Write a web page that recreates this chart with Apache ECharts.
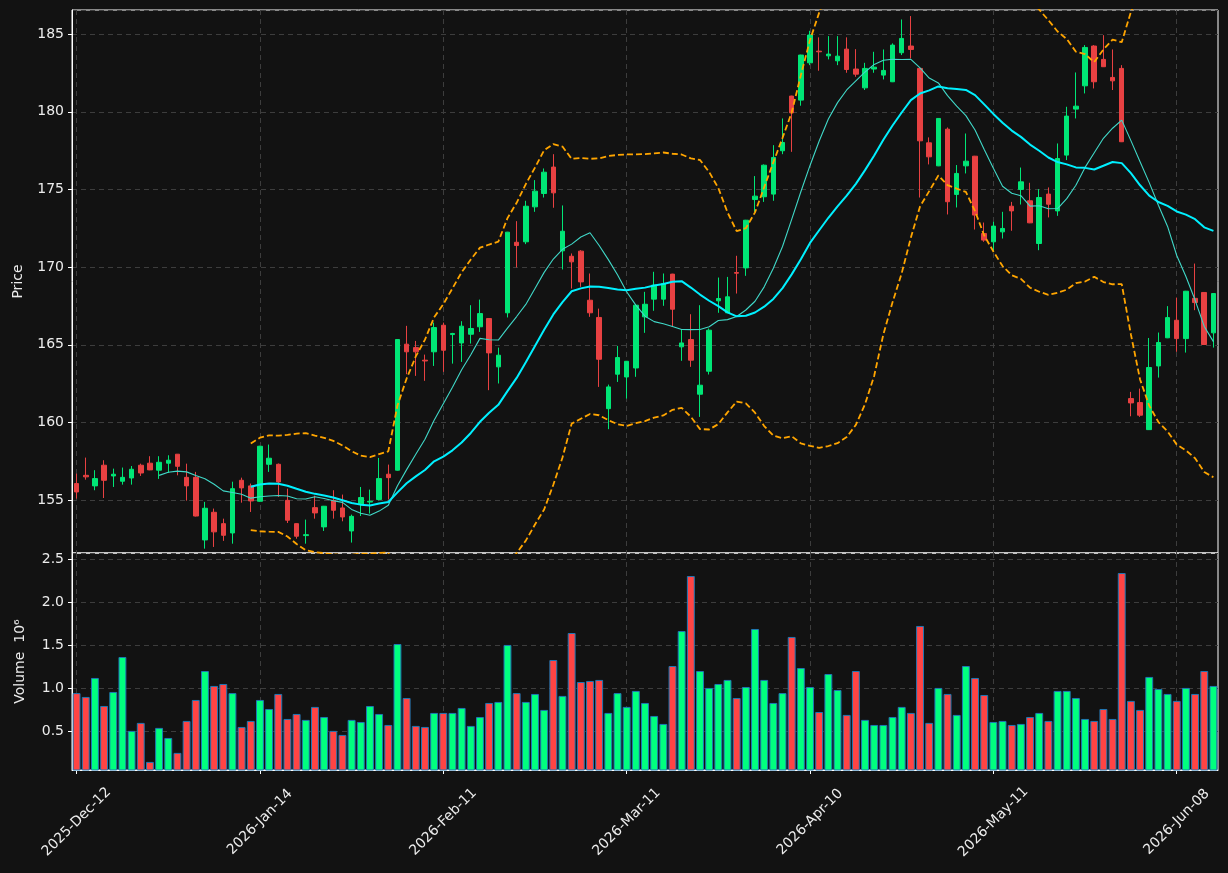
<!DOCTYPE html>
<html>
<head>
<meta charset="utf-8">
<title>Price and volume</title>
<script src="https://cdn.jsdelivr.net/npm/echarts@6.0.0/dist/echarts.min.js"></script>
<style>
    html, body { margin: 0; padding: 0; background: #121212; }
    #main { width: 1228px; height: 873px; }
</style>
</head>
<body>
<div id="main"></div>
<script>
// trading calendar
var startDay = '2025-12-12';
var dayCount = 125;
var holidays = ['2025-12-25', '2025-12-26', '2026-01-01', '2026-04-03', '2026-04-06', '2026-05-01'];
var monthNames = ['Jan', 'Feb', 'Mar', 'Apr', 'May', 'Jun', 'Jul', 'Aug', 'Sep', 'Oct', 'Nov', 'Dec'];

// OHLC
var opens = [
    156.07, 156.60, 155.92, 157.25, 156.56, 156.22, 156.43, 157.25, 157.38, 156.93,
    157.38, 157.96, 156.47, 156.47, 152.44, 154.22, 153.49, 152.89, 156.28, 155.92,
    154.93, 157.31, 157.31, 154.99, 153.49, 152.72, 154.52, 153.28, 154.99, 154.50,
    153.02, 154.71, 154.88, 155.04, 156.67, 156.93, 165.04, 164.82, 164.01, 164.55,
    166.26, 165.66, 165.12, 165.68, 166.16, 166.69, 163.58, 167.06, 171.60, 171.63,
    173.88, 174.74, 176.44, 171.05, 170.70, 171.03, 167.87, 166.76, 160.89, 163.11,
    162.93, 163.51, 166.80, 167.94, 167.94, 169.55, 164.87, 165.34, 161.82, 163.30,
    167.83, 167.06, 169.65, 169.95, 174.35, 174.53, 174.70, 177.49, 181.01, 180.75,
    183.15, 183.90, 183.60, 183.28, 184.03, 182.75, 181.54, 182.75, 182.36, 181.93,
    183.80, 184.23, 182.79, 178.00, 176.52, 178.88, 174.68, 176.52, 177.14, 172.16,
    171.63, 172.27, 173.92, 175.00, 174.27, 171.52, 174.70, 173.62, 177.21, 180.17,
    181.67, 184.23, 183.37, 182.21, 182.79, 161.54, 161.28, 159.54, 163.64, 165.45,
    166.58, 165.40, 167.99, 168.37, 165.77
];
var closes = [
    155.53, 156.50, 156.39, 156.28, 156.67, 156.47, 156.99, 156.75, 156.95, 157.44,
    157.57, 157.18, 155.92, 153.98, 154.48, 152.96, 152.74, 155.74, 155.79, 154.95,
    158.47, 157.70, 156.17, 153.71, 152.68, 152.78, 154.18, 154.61, 154.35, 153.92,
    153.96, 155.17, 154.93, 156.39, 156.45, 165.34, 164.55, 164.55, 163.96, 166.11,
    164.65, 165.73, 166.20, 166.05, 167.01, 164.48, 164.33, 172.25, 171.39, 173.92,
    174.89, 176.11, 174.78, 172.31, 170.34, 169.05, 167.06, 164.07, 162.29, 164.18,
    163.94, 167.55, 167.61, 168.84, 168.94, 167.29, 165.12, 164.01, 162.40, 165.94,
    167.98, 168.09, 169.61, 173.02, 174.57, 176.56, 177.06, 178.02, 179.93, 183.65,
    184.94, 183.86, 183.71, 183.58, 182.72, 182.42, 182.79, 182.87, 182.66, 184.29,
    184.72, 184.01, 178.13, 177.10, 179.57, 174.21, 176.03, 176.82, 173.35, 171.74,
    172.64, 172.49, 173.62, 175.49, 172.85, 174.48, 174.05, 176.99, 179.72, 180.36,
    184.14, 181.93, 182.90, 181.99, 178.07, 161.26, 160.47, 163.54, 165.15, 166.75,
    165.40, 168.45, 167.72, 165.02, 168.30
];
var lows = [
    155.10, 156.32, 155.64, 155.14, 155.85, 156.00, 156.00, 156.56, 156.93, 156.37,
    156.77, 156.60, 154.97, 153.95, 151.88, 151.99, 152.38, 152.20, 154.84, 154.24,
    154.90, 156.82, 155.21, 153.53, 152.52, 152.20, 153.81, 153.02, 153.81, 153.64,
    152.27, 153.98, 154.14, 154.99, 155.04, 156.90, 163.11, 163.00, 162.68, 163.64,
    163.26, 163.79, 163.90, 165.08, 165.83, 162.08, 162.51, 166.76, 169.98, 171.48,
    173.56, 174.48, 173.82, 169.85, 168.62, 168.73, 166.80, 162.29, 159.57, 162.61,
    161.54, 162.94, 165.77, 167.19, 167.51, 166.20, 163.97, 163.58, 160.36, 163.09,
    167.06, 167.04, 168.30, 169.44, 173.56, 174.20, 174.27, 177.27, 177.42, 180.39,
    183.00, 182.64, 183.37, 183.00, 182.51, 182.25, 181.40, 182.51, 182.08, 181.91,
    183.65, 183.43, 174.48, 176.61, 176.50, 173.39, 173.84, 176.03, 172.42, 171.63,
    170.98, 171.84, 172.34, 174.03, 172.83, 171.09, 173.20, 173.30, 176.89, 179.57,
    181.18, 181.50, 182.88, 181.40, 178.05, 160.40, 160.36, 159.52, 162.89, 165.43,
    164.55, 164.50, 167.23, 165.00, 164.82
];
var highs = [
    156.71, 157.74, 156.93, 157.57, 157.03, 157.10, 157.20, 157.35, 157.83, 157.83,
    157.89, 157.97, 157.35, 156.82, 154.89, 154.46, 153.81, 156.19, 156.45, 156.07,
    158.50, 158.58, 157.36, 155.74, 153.51, 153.75, 155.29, 154.63, 155.64, 155.36,
    154.07, 155.85, 155.68, 157.72, 157.29, 165.36, 166.22, 165.25, 164.37, 166.43,
    166.43, 165.77, 166.52, 167.55, 167.91, 166.71, 164.82, 172.27, 172.96, 174.27,
    175.60, 176.35, 177.27, 173.97, 170.88, 171.09, 169.59, 167.33, 162.44, 164.93,
    163.96, 167.57, 168.41, 169.70, 169.59, 169.57, 165.98, 166.97, 167.55, 166.05,
    169.33, 169.37, 170.73, 173.04, 175.86, 176.61, 177.85, 179.57, 181.03, 183.67,
    185.21, 184.79, 184.87, 184.87, 184.79, 184.03, 183.15, 183.86, 184.01, 184.40,
    185.94, 186.16, 182.81, 178.35, 179.59, 178.99, 176.57, 178.60, 177.16, 172.87,
    172.92, 173.56, 174.20, 176.41, 175.43, 175.02, 175.13, 177.96, 180.32, 182.53,
    184.29, 184.29, 184.93, 184.01, 183.00, 161.97, 162.18, 165.44, 165.79, 167.49,
    168.04, 168.47, 170.23, 168.39, 168.32
];
// volume in millions
var volumes = [
    0.940, 0.895, 1.116, 0.790, 0.953, 1.360, 0.500, 0.593, 0.139, 0.535,
    0.418, 0.244, 0.616, 0.860, 1.197, 1.023, 1.046, 0.940, 0.546, 0.616,
    0.860, 0.755, 0.930, 0.639, 0.697, 0.628, 0.779, 0.662, 0.500, 0.453,
    0.628, 0.604, 0.790, 0.697, 0.569, 1.511, 0.883, 0.558, 0.546, 0.709,
    0.709, 0.709, 0.767, 0.558, 0.662, 0.825, 0.837, 1.500, 0.940, 0.837,
    0.930, 0.744, 1.325, 0.907, 1.639, 1.069, 1.081, 1.093, 0.709, 0.940,
    0.779, 0.965, 0.825, 0.674, 0.581, 1.255, 1.662, 2.302, 1.197, 1.000,
    1.046, 1.093, 0.883, 1.011, 1.686, 1.093, 0.825, 0.940, 1.593, 1.232,
    1.011, 0.720, 1.162, 0.976, 0.686, 1.197, 0.628, 0.569, 0.569, 0.662,
    0.779, 0.709, 1.721, 0.593, 1.000, 0.930, 0.686, 1.255, 1.116, 0.918,
    0.604, 0.616, 0.569, 0.581, 0.662, 0.709, 0.616, 0.965, 0.965, 0.883,
    0.639, 0.616, 0.755, 0.639, 2.337, 0.849, 0.744, 1.128, 0.988, 0.930,
    0.849, 1.000, 0.930, 1.197, 1.023
];

var upColor = '#00e676', downColor = '#e84142';
var volUp = '#00ff7f', volDown = '#ff4444';
var textColor = '#ececec';
var font = 'DejaVu Sans';

function tradingDays(start, n) {
    var out = [];
    var d = new Date(start + 'T00:00:00Z');
    while (out.length < n) {
        var iso = d.toISOString().slice(0, 10);
        var wd = d.getUTCDay();
        if (wd !== 0 && wd !== 6 && holidays.indexOf(iso) < 0) {
            out.push(iso.slice(0, 4) + '-' + monthNames[d.getUTCMonth()] + '-' + iso.slice(8, 10));
        }
        d.setUTCDate(d.getUTCDate() + 1);
    }
    return out;
}

// simple moving average
function movingAvg(arr, n) {
    var res = [];
    for (var i = 0; i < arr.length; i++) {
        if (i < n - 1) { res.push('-'); continue; }
        var s = 0;
        for (var j = i - n + 1; j <= i; j++) s += arr[j];
        res.push(+(s / n).toFixed(3));
    }
    return res;
}

// bollinger bands, sample std
function bollinger(arr, n, k) {
    var up = [], lo = [];
    for (var i = 0; i < arr.length; i++) {
        if (i < n - 1) { up.push('-'); lo.push('-'); continue; }
        var s = 0, j;
        for (j = i - n + 1; j <= i; j++) s += arr[j];
        var m = s / n, v = 0;
        for (j = i - n + 1; j <= i; j++) v += (arr[j] - m) * (arr[j] - m);
        var sd = Math.sqrt(v / (n - 1));
        up.push(+(m + k * sd).toFixed(3));
        lo.push(+(m - k * sd).toFixed(3));
    }
    return { upper: up, lower: lo };
}

var dates = tradingDays(startDay, dayCount);
var candles = [];
var volData = [];
for (var i = 0; i < dates.length; i++) {
    candles.push([opens[i], closes[i], lows[i], highs[i]]);
    var isUp = closes[i] >= opens[i];
    volData.push({ value: volumes[i], itemStyle: { color: isUp ? volUp : volDown } });
}
var ma10 = movingAvg(closes, 10);
var ma20 = movingAvg(closes, 20);
var bb = bollinger(closes, 20, 2);

var gridLine = { show: true, interval: 19, alignWithLabel: true, lineStyle: { color: '#3d3d3d', type: [5, 4], width: 1 } };
var hGridLine = { show: true, lineStyle: { color: '#3d3d3d', type: [5, 4], width: 1 } };

var chart = echarts.init(document.getElementById('main'));
var option = {
    animation: false,
    backgroundColor: '#121212',
    textStyle: { fontFamily: font },
    grid: [
        { left: 72, right: 10, top: 10, height: 543, show: true, borderColor: '#ffffff', borderWidth: 1 },
        { left: 72, right: 10, top: 553, height: 217, show: true, borderColor: '#ffffff', borderWidth: 1 }
    ],
    xAxis: [
        {
            type: 'category', gridIndex: 0, data: dates, boundaryGap: true,
            axisLine: { show: false }, axisTick: { show: false }, axisLabel: { show: false },
            splitLine: gridLine
        },
        {
            type: 'category', gridIndex: 1, data: dates, boundaryGap: true,
            axisLine: { show: true, lineStyle: { color: '#ffffff' } },
            axisTick: { show: true, interval: 19, alignWithLabel: true, length: 4, lineStyle: { color: '#ffffff' } },
            axisLabel: {
                interval: 19, rotate: 45, align: 'center', verticalAlign: 'middle', margin: 52,
                color: textColor, fontSize: 14, fontFamily: font
            },
            splitLine: gridLine
        }
    ],
    yAxis: [
        {
            type: 'value', gridIndex: 0, min: 151.6, max: 186.55, minInterval: 5, maxInterval: 5, splitNumber: 7,
            name: 'Price', nameLocation: 'middle', nameGap: 47, nameRotate: 90,
            nameTextStyle: { color: textColor, fontSize: 14, fontFamily: font },
            axisLine: { show: true, lineStyle: { color: '#ffffff' } },
            axisTick: { show: true, length: 4, lineStyle: { color: '#ffffff' } },
            axisLabel: { color: textColor, fontSize: 14, fontFamily: font, showMinLabel: false, showMaxLabel: false },
            splitLine: hGridLine
        },
        {
            type: 'value', gridIndex: 1, min: 0.045, max: 2.57, minInterval: 0.5, maxInterval: 0.5, splitNumber: 5,
            name: 'Volume  10\u2076', nameLocation: 'middle', nameGap: 45, nameRotate: 90,
            nameTextStyle: { color: textColor, fontSize: 14, fontFamily: font },
            axisLine: { show: true, lineStyle: { color: '#ffffff' } },
            axisTick: { show: true, length: 4, lineStyle: { color: '#ffffff' } },
            axisLabel: {
                color: textColor, fontSize: 14, fontFamily: font, showMinLabel: false, showMaxLabel: false,
                formatter: function(v) { return v.toFixed(1); }
            },
            splitLine: hGridLine
        }
    ],
    series: [
        {
            name: 'OHLC', type: 'candlestick', xAxisIndex: 0, yAxisIndex: 0, data: candles,
            barWidth: 5,
            itemStyle: { color: upColor, color0: downColor, borderColor: upColor, borderColor0: downColor, borderWidth: 1 }
        },
        {
            name: 'MA10', type: 'line', xAxisIndex: 0, yAxisIndex: 0, data: ma10,
            symbol: 'none', smooth: false, lineStyle: { color: '#40d8c8', width: 1.1 }
        },
        {
            name: 'MA20', type: 'line', xAxisIndex: 0, yAxisIndex: 0, data: ma20,
            symbol: 'none', smooth: false, lineStyle: { color: '#00f0ff', width: 2 }
        },
        {
            name: 'BB upper', type: 'line', xAxisIndex: 0, yAxisIndex: 0, data: bb.upper,
            symbol: 'none', lineStyle: { color: '#ffa500', width: 1.8, type: [6, 3] }
        },
        {
            name: 'BB lower', type: 'line', xAxisIndex: 0, yAxisIndex: 0, data: bb.lower,
            symbol: 'none', lineStyle: { color: '#ffa500', width: 1.8, type: [6, 3] }
        },
        {
            name: 'Volume', type: 'bar', xAxisIndex: 1, yAxisIndex: 1, data: volData,
            barWidth: '86%',
            itemStyle: { borderColor: '#1f77b4', borderWidth: 1 }
        }
    ]
};
chart.setOption(option);
</script>
</body>
</html>
